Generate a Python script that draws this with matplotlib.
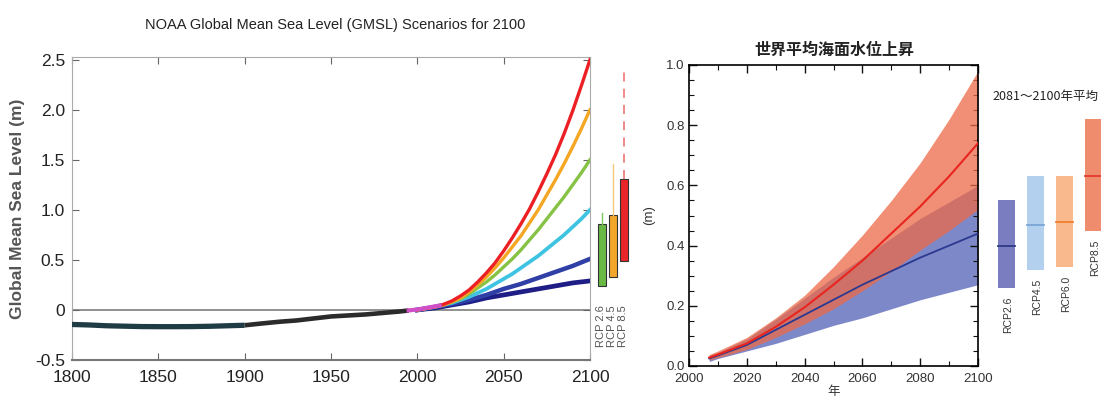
import matplotlib
matplotlib.use('Agg')
import matplotlib.pyplot as plt
from matplotlib import font_manager
from matplotlib.ticker import MultipleLocator, FormatStrFormatter

# --- left panel data (NOAA GMSL) ---
hist_old_years = [1800, 1810, 1820, 1830, 1840, 1850, 1860, 1870, 1880, 1890, 1900]
hist_old_vals = [-0.145, -0.15, -0.158, -0.162, -0.166, -0.167, -0.167, -0.166, -0.163, -0.158, -0.153]
hist_years = [1900, 1910, 1920, 1930, 1940, 1950, 1960, 1970, 1980, 1990, 1995]
hist_vals = [-0.153, -0.135, -0.118, -0.105, -0.085, -0.065, -0.055, -0.045, -0.03, -0.015, -0.005]
sat_years = [1995, 2000, 2005, 2010, 2013]
sat_vals = [-0.005, 0.005, 0.02, 0.035, 0.045]

scen_years = [2000, 2005, 2010, 2015, 2020, 2025, 2030, 2035, 2040, 2045, 2050,
              2055, 2060, 2065, 2070, 2075, 2080, 2085, 2090, 2095, 2100]
scen_low = [0, .01, .02, .035, .05, .065, .08, .10, .12, .135, .15,
            .165, .18, .195, .21, .225, .24, .255, .27, .28, .29]
scen_intlow = [0, .015, .03, .045, .06, .08, .10, .125, .15, .18, .21,
               .235, .26, .29, .32, .35, .38, .41, .44, .475, .51]
scen_int = [0, .015, .03, .05, .07, .10, .13, .17, .21, .26, .31,
            .36, .42, .48, .54, .61, .68, .75, .83, .91, 1.00]
scen_inthigh = [0, .015, .03, .05, .08, .11, .16, .22, .28, .35, .43,
                .51, .60, .70, .80, .91, 1.02, 1.13, 1.25, 1.37, 1.50]
scen_high = [0, .015, .03, .05, .08, .12, .18, .25, .33, .42, .52,
             .63, .74, .87, 1.00, 1.15, 1.30, 1.46, 1.63, 1.81, 2.00]
scen_extreme = [0, .015, .03, .055, .09, .14, .20, .28, .37, .47, .59,
                .72, .86, 1.01, 1.18, 1.36, 1.55, 1.76, 1.99, 2.24, 2.50]

rcp_left_labels = ['RCP 2.6', 'RCP 4.5', 'RCP 8.5']
rcp_left_low = [0.24, 0.33, 0.49]
rcp_left_high = [0.86, 0.95, 1.31]
rcp_left_top = [0.97, 1.46, 2.42]

# --- right panel data (IPCC AR5, Japanese) ---
ar5_years = [2007, 2010, 2020, 2030, 2040, 2050, 2060, 2070, 2080, 2090, 2100]
rcp26_mean = [0.025, 0.035, 0.07, 0.12, 0.17, 0.22, 0.27, 0.315, 0.36, 0.40, 0.44]
rcp26_lo = [0.015, 0.025, 0.05, 0.075, 0.105, 0.135, 0.16, 0.19, 0.22, 0.245, 0.27]
rcp26_hi = [0.035, 0.045, 0.09, 0.155, 0.225, 0.295, 0.36, 0.425, 0.49, 0.545, 0.60]
rcp85_mean = [0.028, 0.038, 0.075, 0.13, 0.195, 0.27, 0.35, 0.44, 0.53, 0.63, 0.74]
rcp85_lo = [0.02, 0.028, 0.055, 0.095, 0.14, 0.19, 0.25, 0.315, 0.385, 0.45, 0.52]
rcp85_hi = [0.038, 0.05, 0.095, 0.16, 0.235, 0.33, 0.435, 0.55, 0.675, 0.82, 0.98]

rcp_right_labels = ['RCP2.6', 'RCP4.5', 'RCP6.0', 'RCP8.5']
rcp_right_low = [0.26, 0.32, 0.33, 0.45]
rcp_right_med = [0.40, 0.47, 0.48, 0.63]
rcp_right_high = [0.55, 0.63, 0.63, 0.82]

names = {f.name for f in font_manager.fontManager.ttflist}
narrow = 'Liberation Sans Narrow' if 'Liberation Sans Narrow' in names else 'Liberation Sans'
jp = ['Noto Sans CJK JP', 'DejaVu Sans']

fig = plt.figure(figsize=(11.01, 3.99), dpi=100)
W, H = 1101.0, 399.0

def box(l, t, r, b):
    return [l / W, 1 - b / H, (r - l) / W, (b - t) / H]

# ================= left panel =================
ax1 = fig.add_axes(box(72, 56.7, 590, 360))
ax1.axhline(0, color='#888888', lw=1.3, zorder=1)
ax1.plot(hist_old_years, hist_old_vals, color='#1f3c44', lw=3.8, solid_capstyle='butt', zorder=3)
ax1.plot(hist_years, hist_vals, color='#2b2b2b', lw=3.3, solid_capstyle='butt', zorder=3)
scen_colors = ['#1e1e86', '#2f3fa6', '#3ec3e2', '#86c244', '#f5a623', '#ec2024']
scen_lw = [3.4, 3.2, 2.7, 2.4, 2.4, 2.4]
for vals, c, w in zip([scen_low, scen_intlow, scen_int, scen_inthigh, scen_high, scen_extreme],
                      scen_colors, scen_lw):
    ax1.plot(scen_years, vals, color=c, lw=w, zorder=4)
ax1.plot(sat_years, sat_vals, color='#d050c8', lw=3, zorder=5)

ax1.set_xlim(1800, 2100)
ax1.set_ylim(-0.5, 2.53)
ax1.set_xticks([1800, 1850, 1900, 1950, 2000, 2050, 2100])
ax1.set_yticks([-0.5, 0, 0.5, 1.0, 1.5, 2.0, 2.5])
ax1.set_yticklabels(['-0.5', '0', '0.5', '1.0', '1.5', '2.0', '2.5'])
ax1.tick_params(direction='in', top=True, right=True, length=5, color='#666666',
                labelsize=12.5, labelcolor='#222222')
ax1.tick_params(axis='x', pad=7)
ax1.tick_params(axis='y', pad=5)
for lab in ax1.get_xticklabels() + ax1.get_yticklabels():
    lab.set_family(narrow)
for s in ax1.spines.values():
    s.set_color('#aaaaaa')
ax1.spines['bottom'].set_color('#777777')
ax1.spines['bottom'].set_linewidth(1.5)
ax1.set_ylabel('Global Mean Sea Level (m)', fontsize=12.5, fontweight='bold',
               color='#555555', family='Liberation Sans', labelpad=7)
fig.text(335 / W, 1 - 25 / H, 'NOAA Global Mean Sea Level (GMSL) Scenarios for 2100',
         ha='center', va='center', fontsize=10.5, family=narrow, color='#222222')

# RCP boxes beside the left panel
axb1 = fig.add_axes(box(590, 56.7, 640, 360))
axb1.set_xlim(0, 5)
axb1.set_ylim(-0.5, 2.53)
axb1.axis('off')
pos_l = [1.2, 2.3, 3.35]
text_l = [1.05, 2.2, 3.35]
cols_l = ['#6ab945', '#f2a72b', '#e8262a']
whisk_l = ['#7cc85a', '#f7c87a', '#f08080']
for i in range(3):
    if i < 2:
        axb1.plot([pos_l[i], pos_l[i]], [rcp_left_high[i], rcp_left_top[i]], color=whisk_l[i], lw=1.0)
    else:
        axb1.plot([pos_l[i], pos_l[i]], [rcp_left_high[i], rcp_left_top[i]], color=whisk_l[i], lw=1.3,
                  dashes=(5, 4))
    axb1.bar(pos_l[i], rcp_left_high[i] - rcp_left_low[i], bottom=rcp_left_low[i], width=0.8,
             color=cols_l[i], edgecolor='#333333', lw=0.8)
    axb1.text(text_l[i], -0.16, rcp_left_labels[i], rotation=90, ha='center', va='center',
              fontsize=8, color='#555555', family='Liberation Sans')

# ================= right panel =================
ax2 = fig.add_axes(box(689, 65, 978, 366))
ax2.fill_between(ar5_years, rcp26_lo, rcp26_hi, color='#7d88c9', lw=0, zorder=1)
ax2.fill_between(ar5_years, rcp85_lo, rcp85_hi, color='#ec6a48', alpha=0.75, lw=0, zorder=2)
ax2.plot(ar5_years, rcp26_mean, color='#2b3990', lw=1.3, zorder=3)
ax2.plot(ar5_years, rcp85_mean, color='#e8251f', lw=1.5, zorder=4)
ax2.set_xlim(2000, 2100)
ax2.set_ylim(0, 1.0)
ax2.xaxis.set_major_locator(MultipleLocator(20))
ax2.xaxis.set_minor_locator(MultipleLocator(10))
ax2.yaxis.set_major_locator(MultipleLocator(0.2))
ax2.yaxis.set_minor_locator(MultipleLocator(0.05))
ax2.yaxis.set_major_formatter(FormatStrFormatter('%.1f'))
ax2.tick_params(which='both', direction='in', top=True, right=True, color='#111111',
                labelsize=9.5, labelcolor='#333333')
ax2.tick_params(which='major', length=6, width=1)
ax2.tick_params(which='minor', length=3.5, width=0.8)
ax2.tick_params(axis='x', pad=5)
ax2.tick_params(axis='y', pad=3)
for lab in ax2.get_xticklabels() + ax2.get_yticklabels():
    lab.set_family('Liberation Sans')
for s in ax2.spines.values():
    s.set_linewidth(1.2)
ax2.set_ylabel('(m)', fontsize=9.5, family='Liberation Sans', color='#333333', labelpad=8)
ax2.set_xlabel('年', fontsize=9, family=jp, color='#333333', labelpad=0)
fig.text(834 / W, 1 - 50 / H, '世界平均海面水位上昇', ha='center', va='center',
         fontsize=11.5, fontweight='bold', family=jp, color='#222222')

# 2081-2100 average boxes
axb2 = fig.add_axes(box(990, 65, 1101, 366))
axb2.set_xlim(-0.569, 3.259)
axb2.set_ylim(0, 1.0)
axb2.axis('off')
box_cols = ['#7a7ec0', '#b3d0ee', '#f9b98c', '#f08c6e']
med_cols = ['#2e3a87', '#7aa6d6', '#f08030', '#e63b2e']
for i in range(4):
    axb2.bar(i, rcp_right_high[i] - rcp_right_low[i], bottom=rcp_right_low[i], width=0.586,
             color=box_cols[i], lw=0)
    axb2.plot([i - 0.293, i + 0.293], [rcp_right_med[i], rcp_right_med[i]], color=med_cols[i], lw=1.3)
    axb2.text(i + 0.05, rcp_right_low[i] - 0.03, rcp_right_labels[i], rotation=90, ha='center',
              va='top', fontsize=7.5, family='Liberation Sans', color='#333333')
axb2.text(-0.47, 0.897, '2081～2100年平均', ha='left', va='center', fontsize=9,
          family=jp, color='#222222', clip_on=False)

fig.savefig('out.png', dpi=100)
